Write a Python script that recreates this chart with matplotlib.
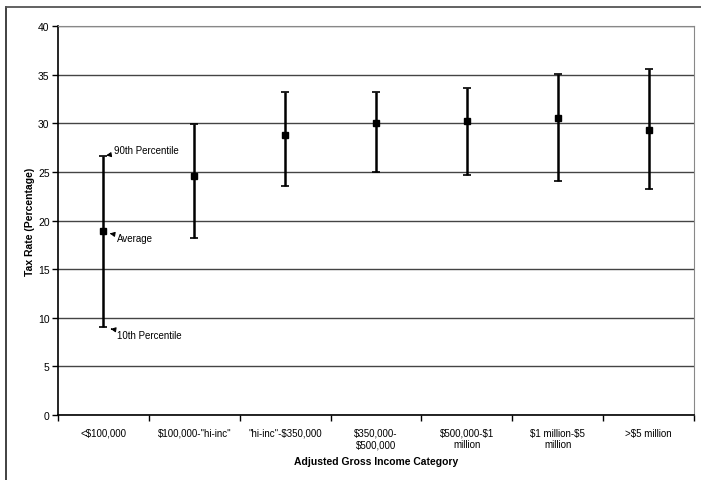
import matplotlib.pyplot as plt
from matplotlib.lines import Line2D

plt.rcParams['font.family'] = ['Liberation Sans', 'DejaVu Sans']
plt.rcParams['text.parse_math'] = False

categories = ['<$100,000', '$100,000-"hi-inc"', '"hi-inc"-$350,000',
              '$350,000-\n$500,000', '$500,000-$1\nmillion',
              '$1 million-$5\nmillion', '>$5 million']
average = [18.97, 24.6, 28.8, 30.05, 30.2, 30.5, 29.3]
p90 = [26.6, 29.9, 33.2, 33.2, 33.6, 35.1, 35.6]
p10 = [9.0, 18.2, 23.5, 25.0, 24.7, 24.1, 23.2]

fig = plt.figure(figsize=(7.01, 4.81), dpi=100)
ax = fig.add_axes([0.0827, 0.1351, 0.9073, 0.8087])

x = list(range(len(categories)))
lower = [a - lo for a, lo in zip(average, p10)]
upper = [hi - a for a, hi in zip(average, p90)]
ax.errorbar(x, average, yerr=[lower, upper], fmt='s', color='black',
            markersize=5, elinewidth=1.8, capsize=3, capthick=1.2, zorder=3)

ax.set_xlim(-0.5, len(categories) - 0.5)
ax.set_ylim(0, 40)
ax.set_yticks(range(0, 41, 5))
ax.grid(axis='y', color='#444444', linewidth=1.0)
ax.set_axisbelow(True)

# category boundaries as ticks, labels centred on categories
ax.set_xticks([i - 0.5 for i in range(len(categories) + 1)])
ax.set_xticklabels([])
ax.set_xticks(x, minor=True)
ax.set_xticklabels(categories, minor=True, fontsize=7)
ax.tick_params(axis='x', which='minor', length=0, pad=9)
ax.tick_params(axis='x', which='major', length=4, direction='out', width=1)
ax.tick_params(axis='y', labelsize=7.5, length=4, width=1, pad=2)

for side in ['top', 'right']:
    ax.spines[side].set_color('#888888')
for side in ['left', 'bottom']:
    ax.spines[side].set_color('black')
    ax.spines[side].set_linewidth(1.2)

ax.set_xlabel('Adjusted Gross Income Category', fontsize=7.5,
              fontweight='bold', labelpad=5)
ax.set_ylabel('Tax Rate (Percentage)', fontsize=7.5, fontweight='bold',
              labelpad=2)

# callouts on the first bar
arrow = dict(arrowstyle='-|>', color='black', lw=0.8, mutation_scale=7)
ax.annotate('90th Percentile', xy=(0.03, p90[0] + 0.1), xytext=(0.12, 27.3),
            fontsize=7, arrowprops=arrow, va='center')
ax.annotate('Average', xy=(0.07, average[0] - 0.3), xytext=(0.15, 18.2),
            fontsize=7, arrowprops=arrow, va='center')
ax.annotate('10th Percentile', xy=(0.05, p10[0] - 0.1), xytext=(0.15, 8.2),
            fontsize=7, arrowprops=arrow, va='center')

# outer frame of the original screenshot
fig.add_artist(Line2D([6 / 701, 6 / 701], [0, 1 - 8 / 481],
                      color='#333333', lw=1.3))
fig.add_artist(Line2D([6 / 701, 1], [1 - 8 / 481, 1 - 8 / 481],
                      color='#555555', lw=1.3))

fig.savefig('out.png', dpi=100)
